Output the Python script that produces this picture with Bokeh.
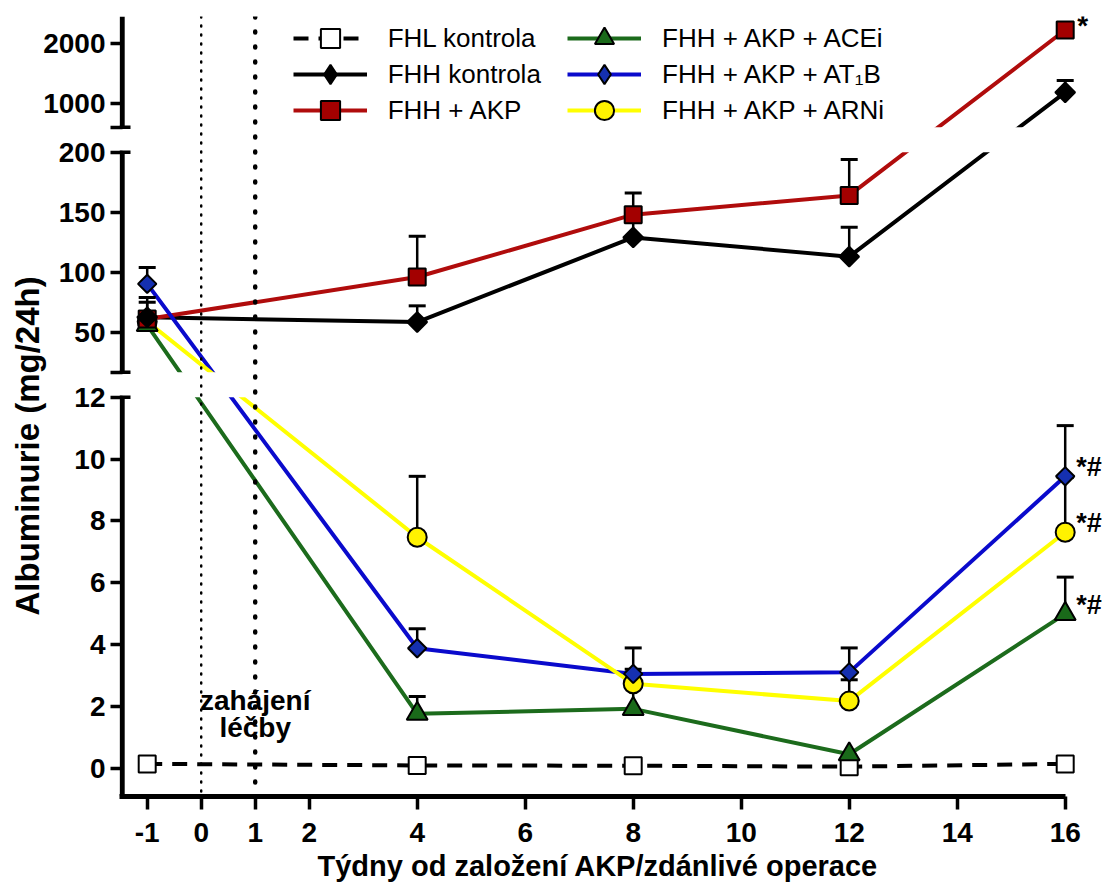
import numpy as np
from bokeh.plotting import figure
from bokeh.models import (ColumnDataSource, Range1d, FixedTicker, Span, Title,
                          Legend, LegendItem, CustomJSTransform)
from bokeh.transform import transform
from bokeh.core.properties import value
from bokeh.embed import file_html
from bokeh.resources import INLINE

nan = np.nan

# ---------------- data ----------------
weeks = [-1, 4, 8, 12, 16]
fhl = [0.14, 0.09, 0.08, 0.05, 0.14]
fhh = [62.5, 58.5, 129, 113, 1180]
fhh_up = [79, 72, 147, 137.5, 1380]
akp = [61, 96, 148, 164, 2220]
akp_up = [75, 130, 166, 194, nan]
acei = [56, 1.76, 1.92, 0.45, 4.99]
acei_up = [nan, 2.32, 2.6, nan, 6.18]
at1b = [90.3, 3.88, 3.05, 3.10, 9.44]
at1b_up = [104, 4.51, 3.89, 3.89, 11.08]
arni = [59, 7.47, 2.73, 2.17, 7.63]
arni_up = [nan, 9.44, 3.2, 2.86, 9.4]

x_ticks = [-1, 0, 1, 2, 4, 6, 8, 10, 12, 14, 16]
y_ticks = [0, 2, 4, 6, 8, 10, 12, 50, 100, 150, 200, 1000, 2000]

# broken y axis: three linear segments stacked (pixel height of start, px per unit)
seg_lo = [-0.915, 16.7, 600]
seg_hi = [12, 200, 2445]
seg_base = [0, 424.3, 669.3]
seg_scale = [30.92, 1.2, 0.06]

FONT = "Liberation Sans"


def H(v):
    if v <= (seg_hi[0] + seg_lo[1]) / 2:
        s = 0
    elif v <= (seg_hi[1] + seg_lo[2]) / 2:
        s = 1
    else:
        s = 2
    return round(seg_base[s] + (v - seg_lo[s]) * seg_scale[s], 3)


T = CustomJSTransform(args=dict(lo=seg_lo, hi=seg_hi, base=seg_base, k=seg_scale),
                      func="""
let s = 2;
if (x <= (hi[0] + lo[1]) / 2) { s = 0; } else if (x <= (hi[1] + lo[2]) / 2) { s = 1; }
return base[s] + (x - lo[s]) * k[s];
""",
                      v_func="""
const out = new Float64Array(xs.length);
for (let i = 0; i < xs.length; i++) {
  const v = xs[i];
  let s = 2;
  if (v <= (hi[0] + lo[1]) / 2) { s = 0; } else if (v <= (hi[1] + lo[2]) / 2) { s = 1; }
  out[i] = base[s] + (v - lo[s]) * k[s];
}
return out;
""")

x_start = -1.513
x_end = x_start + 986 / 54.0

p = figure(frame_width=986, frame_height=780, x_range=Range1d(x_start, x_end),
           y_range=Range1d(0, 780), output_backend="svg", toolbar_location=None,
           title=None, min_border=0, min_border_left=119, min_border_right=0,
           min_border_top=16, min_border_bottom=60)
p.outline_line_color = None
p.xgrid.visible = False
p.ygrid.visible = False
p.background_fill_color = "white"

# x axis
xa = p.xaxis[0]
xa.ticker = FixedTicker(ticks=x_ticks)
xa.major_label_overrides = {t: str(t) for t in x_ticks}
xa.bounds = (x_start, 16)
xa.axis_line_width = 5
xa.major_tick_line_width = 3.5
xa.major_tick_out = 13
xa.major_tick_in = 0
xa.minor_tick_line_color = None
xa.major_label_text_font = FONT
xa.major_label_text_font_size = "28px"
xa.major_label_text_font_style = "bold"
xa.major_label_text_color = "black"
xa.major_label_standoff = 13

# y axis (broken)
ya = p.yaxis[0]
cap_vals = [seg_lo[1], seg_lo[2]]
tick_pos = [H(v) for v in y_ticks] + [H(v) for v in cap_vals]
overrides = {H(v): str(v) for v in y_ticks}
for v in cap_vals:
    overrides[H(v)] = " "
ya.ticker = FixedTicker(ticks=tick_pos)
ya.major_label_overrides = overrides
ya.axis_line_color = None
ya.major_tick_line_width = 3.5
ya.major_tick_out = 9
ya.major_tick_in = 3
ya.minor_tick_line_color = None
ya.major_label_text_font = FONT
ya.major_label_text_font_size = "28px"
ya.major_label_text_font_style = "bold"
ya.major_label_text_color = "black"
ya.major_label_standoff = 5

# axis line pieces and caps
x_axis_line = x_start + 2.7 / 54.0
seg_top = [seg_base[i] + (seg_hi[i] - seg_lo[i]) * seg_scale[i] for i in range(3)]
p.segment(x0=[x_axis_line] * 3, x1=[x_axis_line] * 3, y0=seg_base, y1=seg_top,
          line_color="black", line_width=5)
cap_h = [seg_top[0], seg_base[1], seg_top[1], seg_base[2]]
p.segment(x0=[x_start] * 4, x1=[x_start + 11 / 54.0] * 4, y0=cap_h, y1=cap_h,
          line_color="black", line_width=3.5)

series = [
    dict(name="FHL kontrola", y=fhl, up=[nan] * 5, line="black", fill="white",
         marker="square", lmarker="square", size=17, angle=0, dash="15 10"),
    dict(name="FHH kontrola", y=fhh, up=fhh_up, line="black", fill="black",
         marker="square", lmarker="diamond", size=14, angle=np.pi / 4, dash="solid"),
    dict(name="FHH + AKP", y=akp, up=akp_up, line="#B00C0C", fill="#A30000",
         marker="square", lmarker="square", size=17, angle=0, dash="solid"),
    dict(name="FHH + AKP + ACEi", y=acei, up=acei_up, line="#1C6B1C", fill="#1A6A1A",
         marker="triangle", lmarker="triangle", size=21, angle=0, dash="solid"),
    dict(name="FHH + AKP + AT\u2081B", y=at1b, up=at1b_up, line="#0A0ACC", fill="#1530B0",
         marker="square", lmarker="diamond", size=13, angle=np.pi / 4, dash="solid"),
    dict(name="FHH + AKP + ARNi", y=arni, up=arni_up, line="#FFFF00", fill="#FFF200",
         marker="circle", lmarker="circle", size=19, angle=0, dash="solid"),
]

srcs = []
for s in series:
    srcs.append(ColumnDataSource(dict(x=np.array(weeks, dtype=float),
                                      y=np.array(s["y"], dtype=float),
                                      up=np.array(s["up"], dtype=float))))

line_r = {}
for i in range(6):
    s = series[i]
    line_r[i] = p.line("x", transform("y", T), source=srcs[i], line_color=s["line"],
                       line_width=4, line_dash=s["dash"])

# error bars (upper only)
for i in [1, 2, 3, 4, 5]:
    p.segment(x0="x", y0=transform("y", T), x1="x", y1=transform("up", T),
              source=srcs[i], line_color="black", line_width=2.5)
    p.scatter("x", transform("up", T), source=srcs[i], marker="dash", size=17,
              line_color="black", line_width=3)

# hide lines inside the axis gaps
p.quad(left=[-1.25, -1.25], right=[x_end, x_end], bottom=[seg_top[0], seg_top[1]],
       top=[seg_base[1], seg_base[2]], fill_color="white", line_color=None)

mark_r = {}
for i in [0, 5, 3, 4, 2, 1]:
    s = series[i]
    mark_r[i] = p.scatter("x", transform("y", T), source=srcs[i], marker=s["marker"],
                          size=s["size"], angle=s["angle"], fill_color=s["fill"],
                          line_color="black", line_width=2)

# legend-only marker renderers (no visible points)
leg_mark = {}
for i in range(6):
    s = series[i]
    leg_mark[i] = p.scatter(x=[nan], y=[nan], marker=s["lmarker"], fill_color=s["fill"],
                            line_color="black", line_width=2)

# significance marks
star_src = ColumnDataSource(dict(x=[weeks[-1]], y=[akp[-1]], t=["*"]))
p.text("x", transform("y", T), text="t", source=star_src, x_offset=12, y_offset=-5,
       text_baseline="middle", text_align="left", text_font=value(FONT),
       text_font_size="28px", text_font_style="bold", text_color="black")
sig_src = ColumnDataSource(dict(x=[weeks[-1]] * 3, y=[at1b[-1], arni[-1], acei[-1]],
                                t=["*#", "*#", "*#"]))
p.text("x", transform("y", T), text="t", source=sig_src, x_offset=11, y_offset=-9,
       text_baseline="middle", text_align="left", text_font=value(FONT),
       text_font_size="27px", text_font_style="bold", text_color="black")

# treatment start annotation
ann_src = ColumnDataSource(dict(x=[1, 1], y=[2.19, 1.32], t=["zahájení", "léčby"]))
p.text("x", transform("y", T), text="t", source=ann_src, text_align="center",
       text_baseline="alphabetic", text_font=value(FONT), text_font_size="28px",
       text_font_style="bold", text_color="black")

# dotted vertical markers
p.add_layout(Span(location=0, dimension="height", line_color="black", line_width=2.5,
                  line_dash="1 8", line_cap="round"))
p.add_layout(Span(location=1, dimension="height", line_color="black", line_width=4.5,
                  line_dash="1 14", line_cap="round"))

# legends: one per entry, two columns of three rows
row_centers = [38.3, 74.3, 110.3]
col_left = [173.7, 448]
for k in range(6):
    col, row = divmod(k, 3)
    loc = (col_left[col], 796 - (row_centers[row] + 24))
    item = LegendItem(label=series[k]["name"], renderers=[line_r[k], leg_mark[k]])
    p.add_layout(Legend(items=[item], location=loc, orientation="vertical",
                        glyph_width=74, glyph_height=48, spacing=0, padding=0, margin=0,
                        border_line_color=None, background_fill_alpha=0,
                        label_standoff=21, label_text_font=FONT,
                        label_text_font_size="26px", label_text_color="black"))

# axis titles
p.add_layout(Title(text="Albuminurie (mg/24h)", align="left", offset=181, standoff=-10,
                   text_font=FONT, text_font_size="33px", text_font_style="bold",
                   text_color="black"), "left")
p.add_layout(Title(text="Týdny od založení AKP/zdánlivé operace", align="left",
                   offset=198, standoff=7, text_font=FONT, text_font_size="29px",
                   text_font_style="bold", text_color="black"), "below")

open("out.html", "w").write(file_html(p, INLINE))
